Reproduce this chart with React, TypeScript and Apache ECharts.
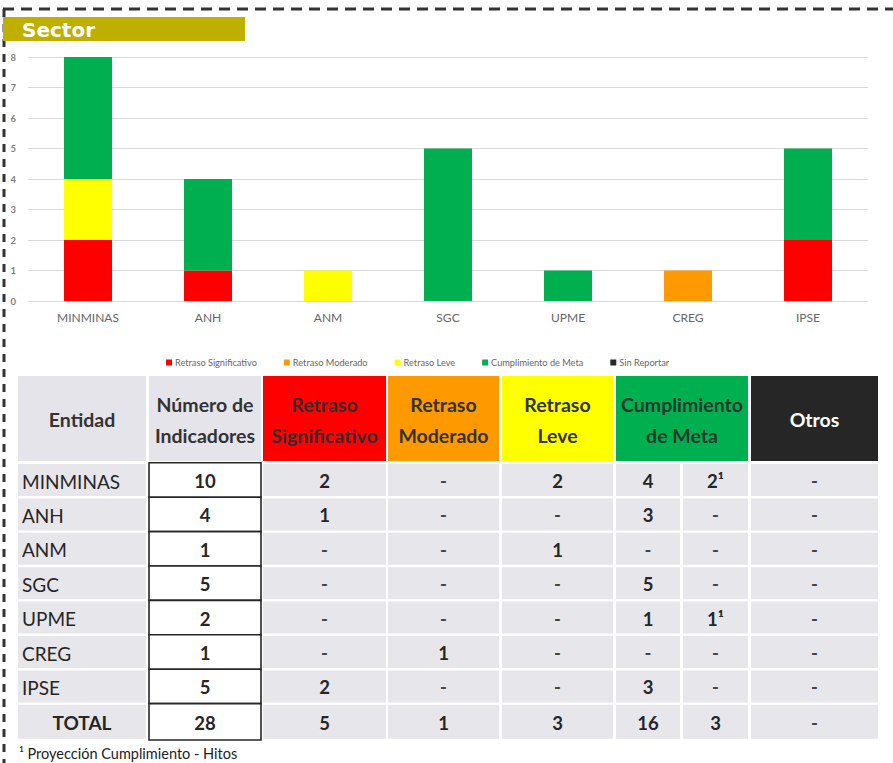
import React, { useEffect, useRef } from "react";
import * as echarts from "echarts";

const entidades = ["MINMINAS", "ANH", "ANM", "SGC", "UPME", "CREG", "IPSE"];
const retrasoSignificativo = [2, 1, 0, 0, 0, 0, 2];
const retrasoModerado = [0, 0, 0, 0, 0, 1, 0];
const retrasoLeve = [2, 0, 1, 0, 0, 0, 0];
const cumplimientoMeta = [4, 3, 0, 5, 1, 0, 3];
const sinReportar = [0, 0, 0, 0, 0, 0, 0];
const yTicks = [0, 1, 2, 3, 4, 5, 6, 7, 8];

const tablaEntidades = [...entidades, "TOTAL"];
const tablaIndicadores = ["10", "4", "1", "5", "2", "1", "5", "28"];
const tablaSignificativo = ["2", "1", "-", "-", "-", "-", "2", "5"];
const tablaModerado = ["-", "-", "-", "-", "-", "1", "-", "1"];
const tablaLeve = ["2", "-", "1", "-", "-", "-", "-", "3"];
const tablaCumplimiento = ["4", "3", "-", "5", "1", "-", "3", "16"];
const tablaProyeccion = ["2\u00B9", "-", "-", "-", "1\u00B9", "-", "-", "3"];
const tablaOtros = ["-", "-", "-", "-", "-", "-", "-", "-"];
const encabezados = [
  "Entidad",
  "Número de\nIndicadores",
  "Retraso\nSignificativo",
  "Retraso\nModerado",
  "Retraso\nLeve",
  "Cumplimiento\nde Meta",
  "Otros",
];
const nota = "\u00B9 Proyección Cumplimiento - Hitos";

const FONT = "Lato, 'Noto Sans', sans-serif";

function buildTable() {
  const els: any[] = [];
  const headerCols = [
    [18, 146, "#E4E4EA", "#333333"],
    [149, 261, "#E4E4EA", "#333333"],
    [263, 386, "#FF0000", "#3a2a2a"],
    [388, 499, "#FF9900", "#333333"],
    [502, 613, "#FFFF00", "#333333"],
    [616, 748, "#00B050", "#1f3a2a"],
    [751, 878, "#262626", "#ffffff"],
  ] as any[];
  const hTop = 376;
  const hBot = 461;
  headerCols.forEach((c, i) => {
    els.push({
      type: "rect",
      shape: { x: c[0], y: hTop, width: c[1] - c[0], height: hBot - hTop },
      style: { fill: c[2] },
    });
    els.push({
      type: "text",
      x: (c[0] + c[1]) / 2,
      y: (hTop + hBot) / 2 + 1,
      style: {
        text: encabezados[i],
        fill: c[3],
        fontSize: 19.5,
        fontWeight: "bold",
        fontFamily: FONT,
        align: "center",
        verticalAlign: "middle",
        lineHeight: 31,
      },
    });
  });

  const bodyCols = [
    [18, 146],
    [149, 261],
    [263, 386],
    [388, 499],
    [502, 613],
    [616, 680],
    [683, 748],
    [751, 878],
  ];
  const columns = [
    tablaEntidades,
    tablaIndicadores,
    tablaSignificativo,
    tablaModerado,
    tablaLeve,
    tablaCumplimiento,
    tablaProyeccion,
    tablaOtros,
  ];
  const pitch = 34.4;
  for (let r = 0; r < tablaEntidades.length; r++) {
    const top = 464 + r * pitch;
    const h = r === tablaEntidades.length - 1 ? 34 : 32;
    const isTotal = r === tablaEntidades.length - 1;
    bodyCols.forEach((c, ci) => {
      if (ci === 1) {
        els.push({
          type: "rect",
          shape: { x: c[0], y: top - 1.2, width: c[1] - c[0], height: h + 2.4 },
          style: { fill: "#ffffff", stroke: "#262626", lineWidth: 1.6 },
          z: 2,
        });
      } else {
        els.push({
          type: "rect",
          shape: { x: c[0], y: top, width: c[1] - c[0], height: h },
          style: { fill: "#E6E6EB" },
        });
      }
      const val = columns[ci][r];
      const isDash = val === "-";
      let x = (c[0] + c[1]) / 2;
      let align = "center";
      if (ci === 0 && !isTotal) {
        x = c[0] + 4;
        align = "left";
      }
      els.push({
        type: "text",
        x,
        y: top + h / 2 + 1,
        z: 3,
        style: {
          text: val,
          fill: isDash ? "#444444" : "#262626",
          fontSize: ci === 0 ? 19 : 18.5,
          fontWeight: ci === 0 && !isTotal ? "normal" : "bold",
          fontFamily: FONT,
          align,
          verticalAlign: "middle",
        },
      });
    });
  }
  els.push({
    type: "text",
    x: 19,
    y: 753,
    style: {
      text: nota,
      fill: "#222222",
      fontSize: 14.5,
      fontFamily: FONT,
      align: "left",
      verticalAlign: "middle",
    },
  });
  return els;
}

export default function App() {
  const ref = useRef<HTMLDivElement>(null);
  useEffect(() => {
    if (!ref.current) return;
    const chart = echarts.init(ref.current, null, { renderer: "svg" });
    const barStyle = (color: string) => ({
      type: "bar" as const,
      stack: "total",
      barWidth: "40%",
      itemStyle: { color },
    });
    const graphic: any[] = [
      {
        type: "line",
        shape: { x1: 3, y1: 9, x2: 893, y2: 9 },
        style: { stroke: "#333333", lineWidth: 3, lineDash: [11, 7] },
      },
      {
        type: "line",
        shape: { x1: 4, y1: 9, x2: 4, y2: 763 },
        style: { stroke: "#333333", lineWidth: 3, lineDash: [8, 7] },
      },
      {
        type: "rect",
        shape: { x: 3, y: 17, width: 242, height: 24 },
        style: { fill: "#BFB000" },
      },
      {
        type: "text",
        x: 22,
        y: 30,
        style: {
          text: "Sector",
          fill: "#ffffff",
          fontSize: 20,
          fontWeight: "bold",
          fontFamily: "'DejaVu Sans', sans-serif",
          align: "left",
          verticalAlign: "middle",
        },
      },
      ...buildTable(),
    ];
    chart.setOption({
      animation: false,
      backgroundColor: "#ffffff",
      textStyle: { fontFamily: FONT },
      grid: { left: 28, right: 25, top: 57, bottom: 462, containLabel: false },
      legend: {
        left: 161,
        top: 353,
        itemWidth: 6,
        itemHeight: 6,
        itemGap: 27,
        icon: "rect",
        textStyle: { fontSize: 9.2, color: "#666666", padding: [0, 0, 0, -2] },
        data: [
          "Retraso Significativo",
          "Retraso Moderado",
          "Retraso Leve",
          "Cumplimiento de Meta",
          "Sin Reportar",
        ],
      },
      xAxis: {
        type: "category",
        data: entidades,
        axisTick: { show: false },
        axisLine: { lineStyle: { color: "#D9D9D9", width: 1 } },
        axisLabel: { color: "#666666", fontSize: 12, margin: 10 },
      },
      yAxis: {
        type: "value",
        min: yTicks[0],
        max: yTicks[yTicks.length - 1],
        interval: 1,
        axisLine: { show: false },
        axisTick: { show: false },
        splitLine: { lineStyle: { color: "#D9D9D9", width: 1 } },
        axisLabel: { color: "#7F7F7F", fontSize: 9.5, fontWeight: "bold", margin: 12 },
      },
      series: [
        { name: "Retraso Significativo", ...barStyle("#FF0000"), data: retrasoSignificativo },
        { name: "Retraso Moderado", ...barStyle("#FF9900"), data: retrasoModerado },
        { name: "Retraso Leve", ...barStyle("#FFFF00"), data: retrasoLeve },
        { name: "Cumplimiento de Meta", ...barStyle("#00B050"), data: cumplimientoMeta },
        { name: "Sin Reportar", ...barStyle("#262626"), data: sinReportar },
      ],
      graphic,
    });
    return () => chart.dispose();
  }, []);
  return (
    <div
      ref={ref}
      style={{ position: "absolute", left: 0, top: 0, width: 893, height: 763 }}
    />
  );
}
